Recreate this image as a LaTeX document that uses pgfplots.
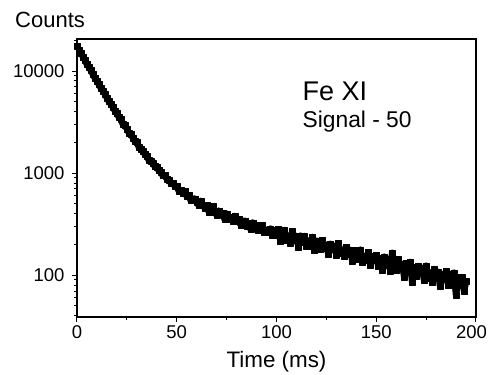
\documentclass[border=0pt]{standalone}
\usepackage{fontspec}
\setmainfont{Liberation Sans}
\usepackage{pgfplots}
\usepackage{pgfplotstable}
\pgfplotsset{compat=1.18}
\usetikzlibrary{calc}

\pgfplotstableread{
t c
0 17580
1 16015
2 15105
3 13770
4 12837
5 11619
6 10924
7 10180
8 9266
9 8538
10 8063
11 7403
12 6780
13 6401
14 5984
15 5456
16 5053
17 4739
18 4467
19 4059
20 3838
21 3534
22 3386
23 3011
24 2926
25 2728
26 2477
27 2428
28 2215
29 2061
30 2013
31 1800
32 1736
33 1662
34 1531
35 1486
36 1341
37 1317
38 1257
39 1161
40 1144
41 1061
42 1020
43 948
44 953
45 877
46 859
47 801
48 795
49 751
50 750
51 670
52 682
53 639
54 663
55 591
56 605
57 542
58 559
59 563
60 517
61 485
62 535
63 486
64 457
65 484
66 420
67 455
68 473
69 412
70 390
71 430
72 396
73 405
74 353
75 401
76 357
77 370
78 338
79 380
80 340
81 355
82 311
83 333
84 343
85 305
86 324
87 282
88 328
89 294
90 307
91 275
92 294
93 307
94 266
95 277
96 263
97 286
98 246
99 274
100 250
101 281
102 216
103 262
104 278
105 223
106 243
107 209
108 268
109 220
110 242
111 189
112 244
113 212
114 242
115 192
116 218
117 195
118 237
119 177
120 218
121 199
122 181
123 220
124 183
125 199
126 161
127 203
128 179
129 194
130 159
131 206
132 164
133 177
134 154
135 188
136 161
137 177
138 139
139 167
140 175
141 144
142 178
143 135
144 153
145 142
146 167
147 126
148 153
149 140
150 157
151 123
152 146
153 113
154 152
155 125
156 144
157 111
158 166
159 131
160 112
161 143
162 117
163 129
164 97
165 131
166 107
167 135
168 86
169 119
170 98
171 123
172 104
173 118
174 89
175 124
176 94
177 106
178 86
179 115
180 93
181 108
182 78
183 102
184 92
185 109
186 81
187 103
188 80
189 106
190 64
191 95
192 80
193 95
194 70
195 87
}\decay

\begin{document}
\begin{tikzpicture}
\begin{axis}[
  scale only axis,
  width=399pt, height=278pt,
  xmin=0, xmax=200,
  ymode=log, log basis y=10,
  ymin=39, ymax=20600,
  xtick={0,50,100,150,200},
  xticklabels={0,50,100,150,\hspace*{-9pt}200},
  minor xtick={25,75,125,175},
  ytick={100,1000,10000},
  yticklabels={100,1000,10000},
  minor ytick={40,50,60,70,80,90,200,300,400,500,600,700,800,900,2000,3000,4000,5000,6000,7000,8000,9000,20000},
  tick align=outside,
  tick pos=left,
  major tick length=5pt,
  minor tick length=3pt,
  every tick/.style={black, line width=1pt},
  axis line style={black, line width=1.3pt},
  /pgf/number format/assume math mode=true,
  tick label style={font=\fontsize{18.5}{20}\selectfont},
  yticklabel style={xshift=-4pt},
  every axis x label/.style={at={(axis description cs:0.5,0)}, anchor=base, yshift=-51pt, font=\fontsize{22.4}{24}\selectfont},
  xlabel={Time (ms)},
  clip=true,
]
\addplot[black, line width=6.5pt, line join=round, mark=square*, mark size=3pt, mark options={line width=0.1pt}] table[x=t, y=c] {\decay};
\node[anchor=base west, inner sep=0pt, font=\fontsize{27}{29}\selectfont] at (axis cs:113,5164) {Fe XI};
\node[anchor=base west, inner sep=0pt, font=\fontsize{22.8}{24}\selectfont] at (axis cs:113,2790) {Signal - 50};
\coordinate (bl) at (rel axis cs:0,0);
\coordinate (tl) at (rel axis cs:0,1);
\end{axis}
\node[anchor=base west, inner sep=0pt, font=\fontsize{22}{24}\selectfont] at ($(tl)+(-62pt,11pt)$) {Counts};
\pgfresetboundingbox
\path ($(bl)+(-77pt,-58pt)$) rectangle ($(bl)+(411pt,317pt)$);
\end{tikzpicture}
\end{document}
